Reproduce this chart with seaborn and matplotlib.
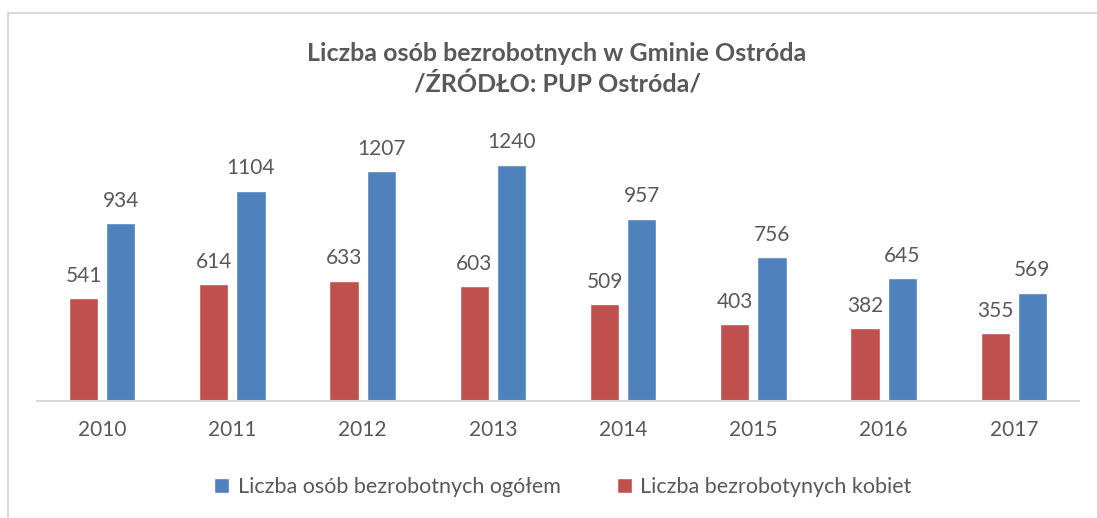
import pandas as pd
import matplotlib.pyplot as plt
from matplotlib.patches import Patch
from matplotlib.lines import Line2D
import seaborn as sns

years = ["2010", "2011", "2012", "2013", "2014", "2015", "2016", "2017"]
kobiety = [541, 614, 633, 603, 509, 403, 382, 355]
ogolem = [934, 1104, 1207, 1240, 957, 756, 645, 569]

label_ogolem = "Liczba osób bezrobotnych ogółem"
label_kobiety = "Liczba bezrobotynych kobiet"

red = "#C0504D"
blue = "#4F81BD"
text_col = "#595959"

df = pd.DataFrame({
    "rok": years * 2,
    "wartosc": kobiety + ogolem,
    "seria": [label_kobiety] * len(years) + [label_ogolem] * len(years),
})

sns.set_style("white")
plt.rcParams["font.family"] = ["Lato", "DejaVu Sans"]

fig = plt.figure(figsize=(10.97, 5.18), dpi=100)
ax = fig.add_axes([37 / 1097, 117 / 518, 1042 / 1097, 266.5 / 518])

sns.barplot(data=df, x="rok", y="wartosc", hue="seria",
            hue_order=[label_kobiety, label_ogolem],
            palette=[red, blue], saturation=1, width=0.57, gap=0.21,
            legend=False, ax=ax)

for cont in ax.containers:
    ax.bar_label(cont, padding=9, fontsize=15, color=text_col)

ax.set_ylim(0, 1400)
ax.set_xlim(-0.5, 7.5)
ax.set_xlabel("")
ax.set_ylabel("")
ax.set_yticks([])
for s in ["top", "right", "left"]:
    ax.spines[s].set_visible(False)
ax.spines["bottom"].set_color("#D9D9D9")
ax.spines["bottom"].set_linewidth(1.5)
ax.tick_params(axis="x", length=0, pad=14, labelsize=15, labelcolor=text_col)

fig.text(557 / 1097, 1 - 69 / 518,
         "Liczba osób bezrobotnych w Gminie Ostróda\n/ŹRÓDŁO: PUP Ostróda/",
         ha="center", va="center", fontsize=18, fontweight="bold",
         color=text_col, linespacing=1.4)

handles = [Patch(facecolor=blue, label=label_ogolem),
           Patch(facecolor=red, label=label_kobiety)]
fig.legend(handles=handles, loc="center", bbox_to_anchor=(563 / 1097, 1 - 487 / 518),
           ncol=2, frameon=False, fontsize=15.5, labelcolor=text_col,
           handlelength=0.7, handleheight=0.7, handletextpad=0.4, columnspacing=2.6)

# chart frame (top and left edges visible)
fig.add_artist(Line2D([8 / 1097, 8 / 1097], [0, 1 - 13 / 518], color="#D9D9D9", lw=1.5))
fig.add_artist(Line2D([8 / 1097, 1], [1 - 13 / 518, 1 - 13 / 518], color="#D9D9D9", lw=1.5))

fig.savefig("out.png", dpi=100)
